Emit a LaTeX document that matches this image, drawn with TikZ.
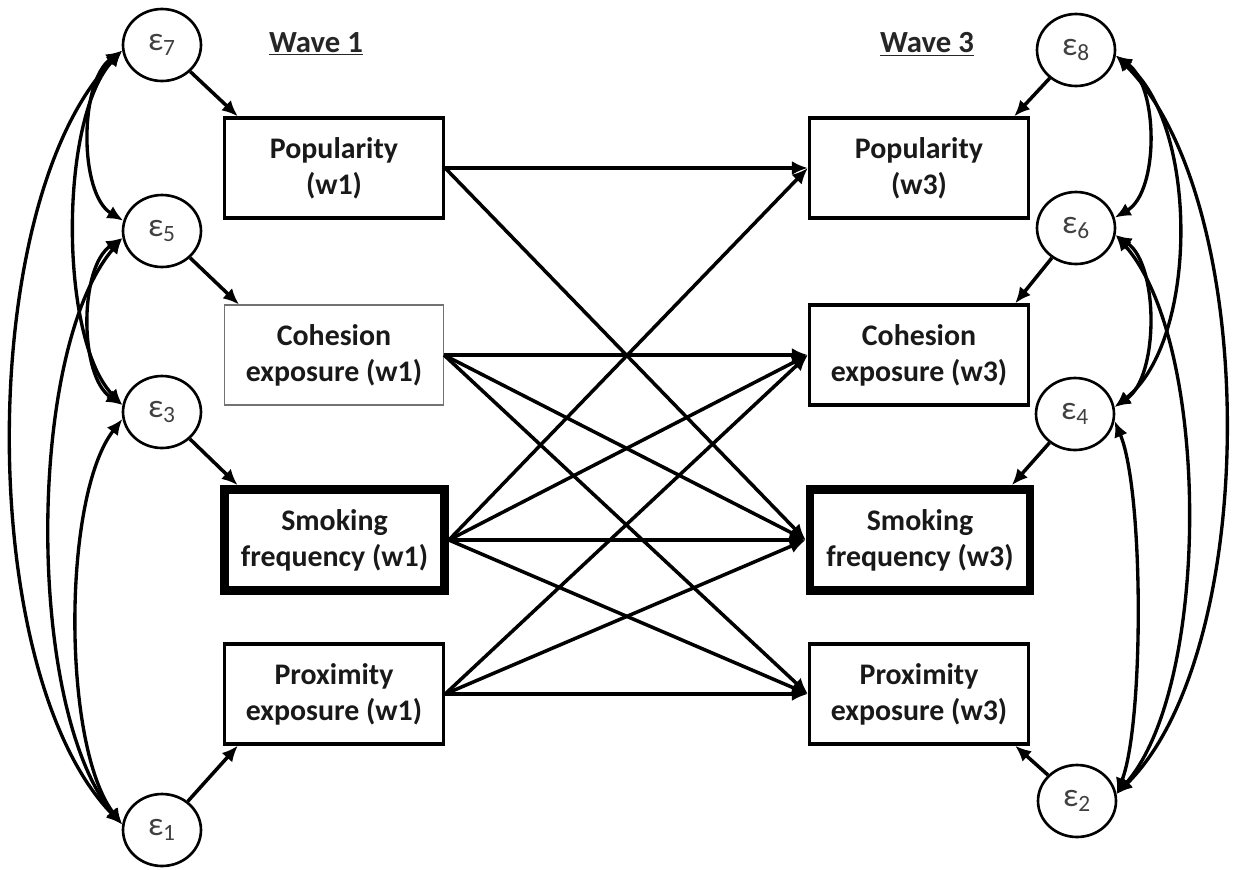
\documentclass[tikz,border=0pt]{standalone}
\usepackage{fontspec}
\setmainfont{Carlito}
\usetikzlibrary{arrows.meta,shapes.geometric}
\begin{document}
\begin{tikzpicture}[x=0.02cm,y=-0.02cm,
  box/.style={draw=black, line width=1.9pt, minimum width=4.38cm, minimum height=2cm,
    align=center, inner sep=0pt, text=black!90,
    font=\bfseries\fontsize{17}{20.5}\selectfont},
  thinbox/.style={box, draw=black!55, line width=0.6pt},
  thickbox/.style={box, line width=5pt, minimum width=4.4cm, minimum height=2.02cm},
  err/.style={ellipse, draw, line width=1.5pt, minimum width=1.56cm, minimum height=1.44cm,
    inner sep=0pt, text=black!75, font=\fontsize{19}{19}\selectfont},
  wave/.style={font=\bfseries\fontsize{17.5}{20}\selectfont, text=black!85},
  pth/.style={line width=2pt, -{Latex[length=3.2mm,width=2.8mm]}},
  cov/.style={line width=1.9pt, {Latex[length=3.2mm,width=2.8mm]}-{Latex[length=3.2mm,width=2.8mm]}}
]
\useasboundingbox (0,0) rectangle (1233,869);

% Wave labels
\node[wave] (wa) at (316,44) {\underline{Wave 1}};
\node[wave] (wb) at (927,44) {\underline{Wave 3}};

% Left boxes
\node[box]      (p1) at (334,168)   {Popularity\\(w1)};
\node[thinbox]  (c1) at (334,355)   {Cohesion\\exposure (w1)};
\node[thickbox] (s1) at (334.5,540) {Smoking\\frequency (w1)};
\node[box]      (x1) at (334,694)   {Proximity\\exposure (w1)};

% Right boxes
\node[box]      (p3) at (919,168)   {Popularity\\(w3)};
\node[box]      (c3) at (919,355)   {Cohesion\\exposure (w3)};
\node[thickbox] (s3) at (920,540)   {Smoking\\frequency (w3)};
\node[box]      (x3) at (919,694)   {Proximity\\exposure (w3)};

% Error terms
\node[err] (e7) at (162,45)  {ε\textsubscript{7}};
\node[err] (e5) at (162,231) {ε\textsubscript{5}};
\node[err] (e3) at (162,412) {ε\textsubscript{3}};
\node[err] (e1) at (162,830) {ε\textsubscript{1}};
\node[err] (e8) at (1076,50)  {ε\textsubscript{8}};
\node[err] (e6) at (1076,228) {ε\textsubscript{6}};
\node[err] (e4) at (1075,414) {ε\textsubscript{4}};
\node[err] (e2) at (1077,801) {ε\textsubscript{2}};

% Error paths
\draw[pth] (e7) -- ([xshift=0.3cm]p1.north west);
\draw[pth] (e5) -- ([xshift=0.3cm]c1.north west);
\draw[pth] (e3) -- ([xshift=0.35cm]s1.north west);
\draw[pth] (e1) -- ([xshift=0.3cm]x1.south west);
\draw[pth] (e8) -- ([xshift=-0.32cm]p3.north east);
\draw[pth] (e6) -- ([xshift=-0.3cm]c3.north east);
\draw[pth] (e4) -- ([xshift=-0.45cm]s3.north east);
\draw[pth] (e2) -- ([xshift=-0.3cm]x3.south east);

% Cross-lagged paths
\draw[pth] (p1.east) -- (p3.west);
\draw[pth] (p1.east) -- (s3.west);
\draw[pth] (c1.east) -- (c3.west);
\draw[pth] (c1.east) -- (s3.west);
\draw[pth] (c1.east) -- (x3.west);
\draw[pth] (s1.east) -- (p3.west);
\draw[pth] (s1.east) -- (c3.west);
\draw[pth] (s1.east) -- (s3.west);
\draw[pth] (s1.east) -- (x3.west);
\draw[pth] (x1.east) -- (c3.west);
\draw[pth] (x1.east) -- (s3.west);
\draw[pth] (x1.east) -- (x3.west);

% Left covariances
\draw[cov] (e7.188) .. controls (-25,202) and (-25,673) .. (e1.172);
\draw[cov] (e5.190) .. controls (26,351) and (26,710) .. (e1.172);
\draw[cov] (e7.188) .. controls (59,118) and (59,339) .. (e3.170);
\draw[cov] (e3.190) .. controls (62,496) and (62,746) .. (e1.172);
\draw[cov] (e7.188) .. controls (79,82) and (79,194) .. (e5.165);
\draw[cov] (e5.190) .. controls (79,267) and (79,376) .. (e3.170);

% Right covariances
\draw[cov] (e8.-8) .. controls (1261,200) and (1261,651) .. (e2.10);
\draw[cov] (e6.-10) .. controls (1211,343) and (1211,686) .. (e2.10);
\draw[cov] (e8.-8) .. controls (1199,123) and (1199,341) .. (e4.10);
\draw[cov] (e4.-10) .. controls (1144,491) and (1144,724) .. (e2.10);
\draw[cov] (e8.-8) .. controls (1159,86) and (1159,192) .. (e6.15);
\draw[cov] (e6.-10) .. controls (1159,265) and (1159,377) .. (e4.10);
\end{tikzpicture}
\end{document}
